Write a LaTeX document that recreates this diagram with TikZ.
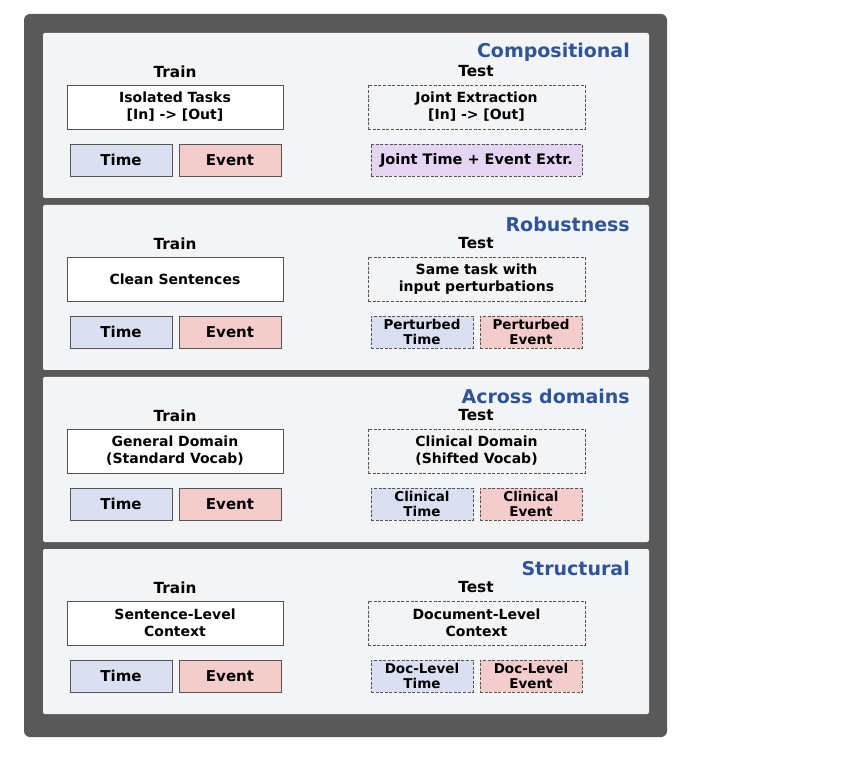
\documentclass[tikz,border=0pt]{standalone}
\usepackage{fontspec}
\setmainfont{DejaVu Sans}
\definecolor{outer}{HTML}{595959}
\definecolor{panel}{HTML}{F3F4F6}
\definecolor{ttl}{HTML}{2F5597}
\definecolor{timec}{HTML}{DAE0F2}
\definecolor{eventc}{HTML}{F4CCCC}
\definecolor{jointc}{HTML}{E4D5F3}
\definecolor{edge}{HTML}{555555}
\tikzset{
  ttlbox/.style={anchor=east, text=ttl, font=\bfseries\fontsize{19}{22}\selectfont, inner sep=0pt},
  hdr/.style={font=\bfseries\fontsize{15.3}{18}\selectfont, inner sep=0pt},
  dashline/.style={dash pattern=on 3pt off 1.6pt},
  trainbox/.style={draw=edge, fill=white, line width=0.9pt, minimum width=216pt, minimum height=44pt, align=center, font=\bfseries\fontsize{14}{17}\selectfont, inner sep=0pt},
  testbox/.style={draw=edge, dashline, line width=0.9pt, minimum width=217pt, minimum height=44pt, align=center, font=\bfseries\fontsize{14}{17}\selectfont, inner sep=0pt},
  smallbox/.style={draw=edge, line width=0.9pt, minimum width=102pt, minimum height=32pt, align=center, font=\bfseries\fontsize{15}{17}\selectfont, inner sep=0pt},
  tsmall/.style={smallbox, dashline, font=\bfseries\fontsize{13.5}{15}\selectfont},
}
\begin{document}
\begin{tikzpicture}[x=1pt,y=-1pt]
\useasboundingbox (0,0) rectangle (855,762);
\fill[outer, rounded corners=6pt] (24,14) rectangle (667,737);
% panels
\foreach \yy in {0,172,344,516}{
  \begin{scope}[yshift=-\yy pt]
  \fill[panel, rounded corners=2pt] (43,33) rectangle (649,198);
  \end{scope}
}
% Panel 1
\node[ttlbox] (t1) at (630,52) {Compositional};
\node[hdr] (tr1) at (175,72) {Train};
\node[hdr] (te1) at (476,71) {Test};
\node[trainbox] (a1) at (175,107) {Isolated Tasks\\{[In]} -> {[Out]}};
\node[testbox] (b1) at (476.5,107) {Joint Extraction\\{[In]} -> {[Out]}};
\node[smallbox, fill=timec] (c1) at (121,160) {Time};
\node[smallbox, fill=eventc] (d1) at (230,160) {Event};
\node[smallbox, dashline, fill=jointc, minimum width=211pt, font=\bfseries\fontsize{14.5}{17}\selectfont] (e1) at (476.5,160) {Joint Time + Event Extr.};
% Panel 2
\node[ttlbox] (t2) at (630,224) {Robustness};
\node[hdr] (tr2) at (175,244) {Train};
\node[hdr] (te2) at (476,243) {Test};
\node[trainbox] (a2) at (175,279) {Clean Sentences};
\node[testbox] (b2) at (476.5,279) {Same task with\\input perturbations};
\node[smallbox, fill=timec] (c2) at (121,332) {Time};
\node[smallbox, fill=eventc] (d2) at (230,332) {Event};
\node[tsmall, fill=timec] (e2) at (422,332) {Perturbed\\Time};
\node[tsmall, fill=eventc] (f2) at (531,332) {Perturbed\\Event};
% Panel 3
\node[ttlbox] (t3) at (630,396) {Across domains};
\node[hdr] (tr3) at (175,416) {Train};
\node[hdr] (te3) at (476,415) {Test};
\node[trainbox] (a3) at (175,451) {General Domain\\(Standard Vocab)};
\node[testbox] (b3) at (476.5,451) {Clinical Domain\\(Shifted Vocab)};
\node[smallbox, fill=timec] (c3) at (121,504) {Time};
\node[smallbox, fill=eventc] (d3) at (230,504) {Event};
\node[tsmall, fill=timec] (e3) at (422,504) {Clinical\\Time};
\node[tsmall, fill=eventc] (f3) at (531,504) {Clinical\\Event};
% Panel 4
\node[ttlbox] (t4) at (630,568) {Structural};
\node[hdr] (tr4) at (175,588) {Train};
\node[hdr] (te4) at (476,587) {Test};
\node[trainbox] (a4) at (175,623) {Sentence-Level\\Context};
\node[testbox] (b4) at (476.5,623) {Document-Level\\Context};
\node[smallbox, fill=timec] (c4) at (121,676) {Time};
\node[smallbox, fill=eventc] (d4) at (230,676) {Event};
\node[tsmall, fill=timec] (e4) at (422,676) {Doc-Level\\Time};
\node[tsmall, fill=eventc] (f4) at (531,676) {Doc-Level\\Event};
\end{tikzpicture}
\end{document}
